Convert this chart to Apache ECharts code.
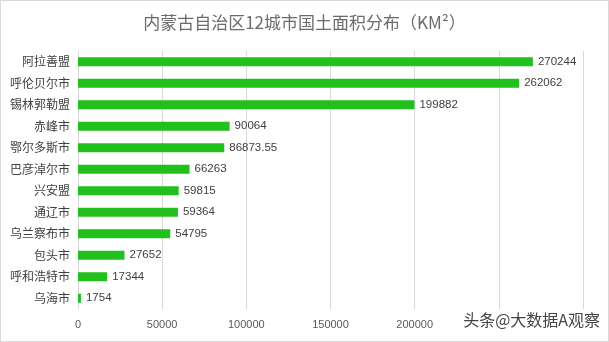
<!DOCTYPE html>
<html><head><meta charset="utf-8">
<script src="https://cdn.jsdelivr.net/npm/echarts@6/dist/echarts.min.js"></script>
<style>html,body{margin:0;padding:0;background:#fff}#c{width:609px;height:342px;box-sizing:border-box;border:1px solid #d9d9d9}</style>
</head><body><div id="c"></div>
<script>
const categories = ["阿拉善盟","呼伦贝尔市","锡林郭勒盟","赤峰市","鄂尔多斯市","巴彦淖尔市","兴安盟","通辽市","乌兰察布市","包头市","呼和浩特市","乌海市"];
const areaValues = [270244,262062,199882,90064,86873.55,66263,59815,59364,54795,27652,17344,1754];
const xTicks = [0,50000,100000,150000,200000];
const titleText = "内蒙古自治区12城市国土面积分布（KM²）";
const watermark = "头条@大数据A观察";

const chart = echarts.init(document.getElementById('c'));
chart.setOption({
  animation:false,
  title:{text:titleText,left:'center',top:8,textStyle:{fontSize:17,fontWeight:'normal',color:'#6b6b6b',fontFamily:'Noto Sans CJK SC'}},
  graphic:[{type:'text',right:8,top:311,z:100,style:{text:watermark,fontSize:16,fill:'#444',backgroundColor:'#fff',fontFamily:'Noto Sans CJK SC'}}],
  grid:{left:77,right:25,top:50,bottom:32,containLabel:false},
  xAxis:{type:'value',min:0,max:300000,interval:50000,
    axisLine:{show:false},axisTick:{show:false},
    splitLine:{lineStyle:{color:'#d9d9d9'}},
    axisLabel:{color:'#595959',fontSize:11,margin:10,fontFamily:'Liberation Sans',
      formatter:function(v){return xTicks.indexOf(v)>=0?String(v):'';}}},
  yAxis:{type:'category',data:categories,inverse:true,
    axisLine:{show:true,lineStyle:{color:'#d9d9d9'}},axisTick:{show:false},
    axisLabel:{color:'#404040',fontSize:12,margin:8,fontFamily:'Noto Sans CJK SC'}},
  series:[{type:'bar',data:areaValues,barWidth:9,itemStyle:{color:'#22c01c'},
    label:{show:true,position:'right',distance:5,color:'#404040',fontSize:11.5,fontFamily:'Liberation Sans'}}]
});
</script></body></html>
